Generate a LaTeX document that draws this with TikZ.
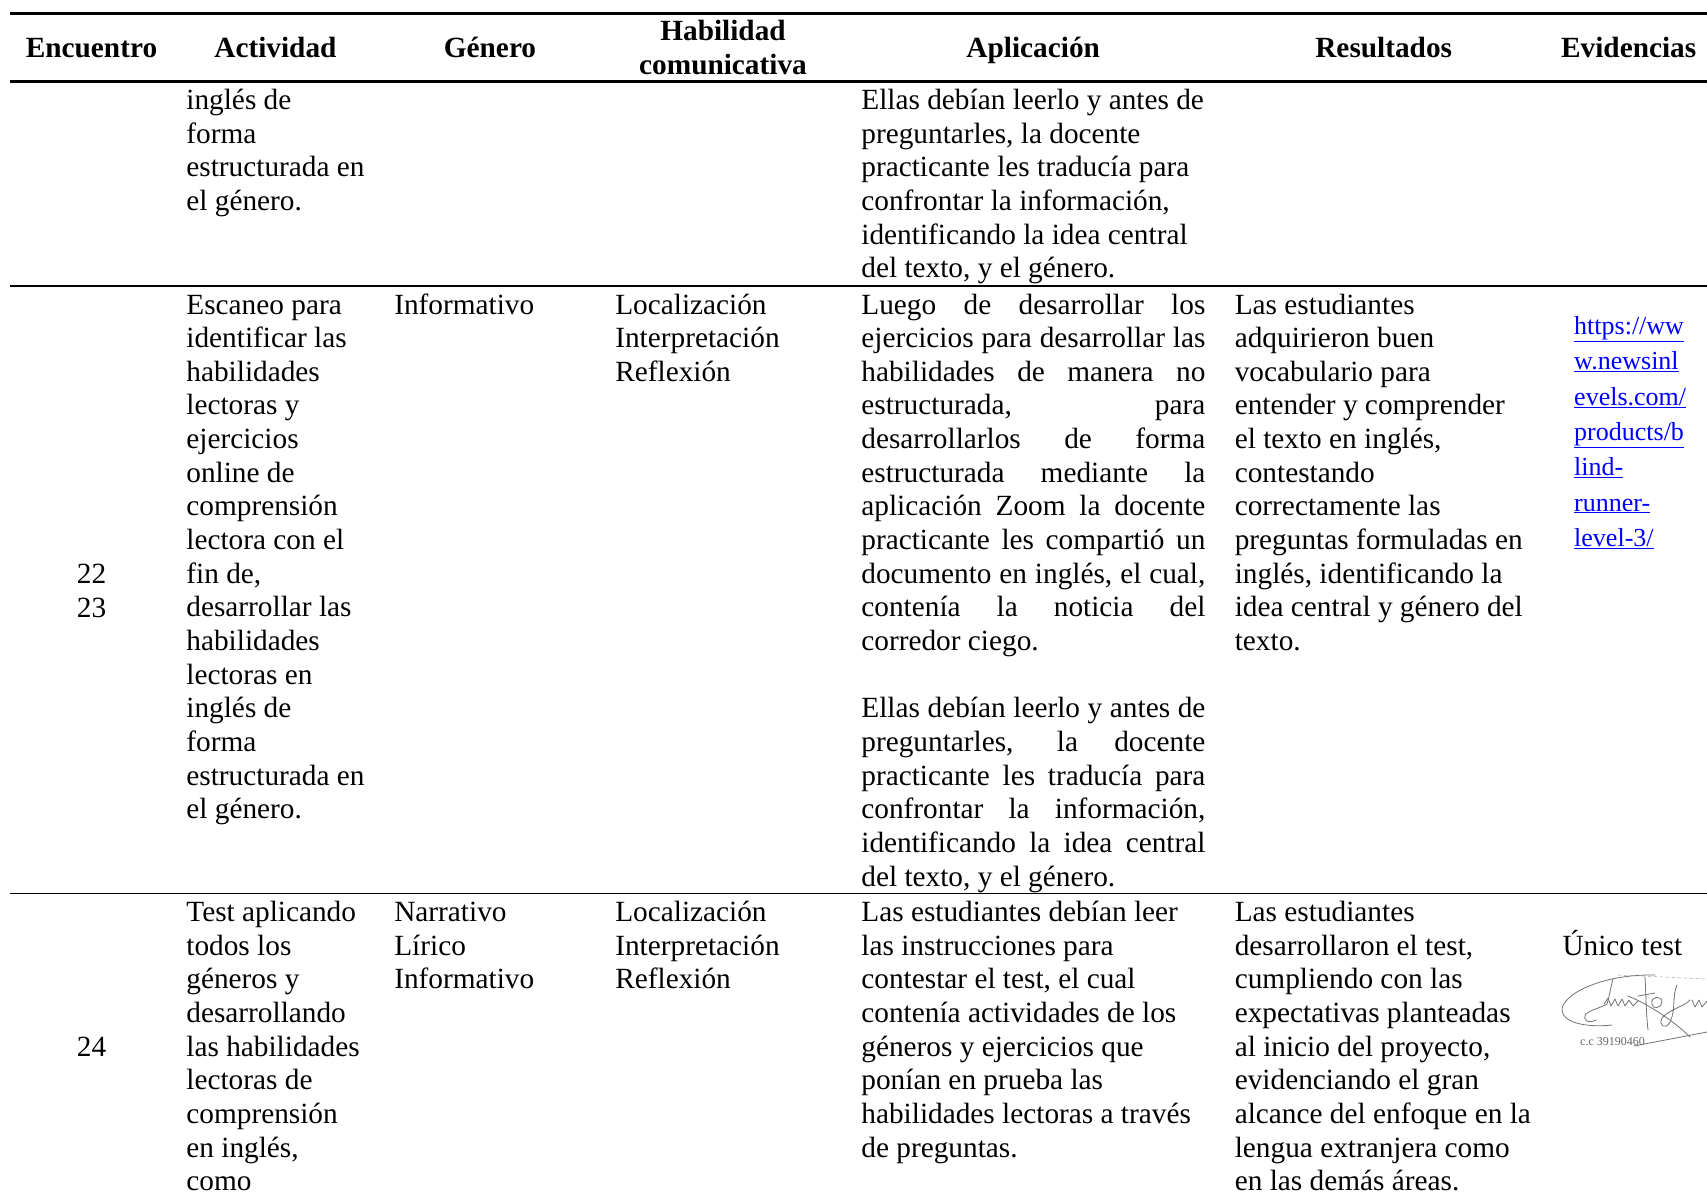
\documentclass[tikz,border=0pt]{standalone}
\usepackage{fontspec}
\setmainfont{Liberation Serif}
\newcommand\cl[1]{\begin{tabular}[t]{@{}l@{}}#1\end{tabular}}
\newcommand\cc[1]{\begin{tabular}[t]{@{}c@{}}#1\end{tabular}}
\newcommand\jl[1]{\makebox[344pt][s]{#1}}
\newcommand\lk[1]{\underline{#1}}
\begin{document}
\begin{tikzpicture}[x=1pt,y=-1pt,
  body/.style={inner sep=0pt, anchor=base west, font=\fontsize{29.3pt}{33.65pt}\selectfont},
  bodyc/.style={inner sep=0pt, anchor=base, font=\fontsize{29.3pt}{33.65pt}\selectfont},
  head/.style={inner sep=0pt, anchor=base, font=\fontsize{29.3pt}{33.65pt}\selectfont\bfseries},
  linkst/.style={inner sep=0pt, anchor=base west, text=blue, font=\fontsize{26pt}{35.3pt}\selectfont},
  rulethick/.style={line width=2.6pt},
  rulethin/.style={line width=1.4pt},
  sig/.style={draw=black!55, line width=0.8pt, line cap=round, line join=round}]
\useasboundingbox[fill=white] (0,0) rectangle (1707,1194);
% rules
\draw[rulethick] (10,13.5) -- (1707,13.5);
\draw[rulethick] (10,81.5) -- (1707,81.5);
\draw[rulethin] (10,286) -- (1707,286);
\draw[rulethin] (10,893.5) -- (1707,893.5);
% header
\node[head] (h1) at (91.5,57.5) {Encuentro};
\node[head] (h2) at (275.4,57.5) {Actividad};
\node[head] (h3) at (490,57.5) {Género};
\node[head] (h4) at (723,40.5) {\cc{Habilidad\\comunicativa}};
\node[head] (h5) at (1033.2,57.5) {Aplicación};
\node[head] (h6) at (1383.7,57.5) {Resultados};
\node[head] (h7) at (1628.7,57.5) {Evidencias};
% row 1
\node[body] (r1a) at (186.2,109.5) {\cl{inglés de\\forma\\estructurada en\\el género.}};
\node[body] (r1b) at (861.2,109.5) {\cl{Ellas debían leerlo y antes de\\preguntarles, la docente\\practicante les traducía para\\confrontar la información,\\identificando la idea central\\del texto, y el género.}};
% row 2
\node[bodyc] (r2n) at (91.5,583.5) {\cc{22\\23}};
\node[body] (r2a) at (186.2,314) {\cl{Escaneo para\\identificar las\\habilidades\\lectoras y\\ejercicios\\online de\\comprensión\\lectora con el\\fin de,\\desarrollar las\\habilidades\\lectoras en\\inglés de\\forma\\estructurada en\\el género.}};
\node[body] (r2g) at (394.1,314) {Informativo};
\node[body] (r2h) at (615.1,314) {\cl{Localización\\Interpretación\\Reflexión}};
\node[body] (r2p) at (861.2,314) {\cl{\jl{Luego de desarrollar los}\\\jl{ejercicios para desarrollar las}\\\jl{habilidades de manera no}\\\jl{estructurada, para}\\\jl{desarrollarlos de forma}\\\jl{estructurada mediante la}\\\jl{aplicación Zoom la docente}\\\jl{practicante les compartió un}\\\jl{documento en inglés, el cual,}\\\jl{contenía la noticia del}\\corredor ciego.\\ \\\jl{Ellas debían leerlo y antes de}\\\jl{preguntarles, la docente}\\\jl{practicante les traducía para}\\\jl{confrontar la información,}\\\jl{identificando la idea central}\\del texto, y el género.}};
\node[body] (r2r) at (1234.6,314) {\cl{Las estudiantes\\adquirieron buen\\vocabulario para\\entender y comprender\\el texto en inglés,\\contestando\\correctamente las\\preguntas formuladas en\\inglés, identificando la\\idea central y género del\\texto.}};
\node[linkst] (r2e) at (1574,334.5) {\begin{tabular}[t]{@{}l@{}}\lk{https://ww}\\\lk{w.newsinl}\\\lk{evels.com/}\\\lk{products/b}\\\lk{lind-}\\\lk{runner-}\\\lk{level-3/}\end{tabular}};
% row 3
\node[bodyc] (r3n) at (91.5,1056) {24};
\node[body] (r3a) at (186.2,921.5) {\cl{Test aplicando\\todos los\\géneros y\\desarrollando\\las habilidades\\lectoras de\\comprensión\\en inglés,\\como}};
\node[body] (r3g) at (394.1,921.5) {\cl{Narrativo\\Lírico\\Informativo}};
\node[body] (r3h) at (615.1,921.5) {\cl{Localización\\Interpretación\\Reflexión}};
\node[body] (r3p) at (861.2,921.5) {\cl{Las estudiantes debían leer\\las instrucciones para\\contestar el test, el cual\\contenía actividades de los\\géneros y ejercicios que\\ponían en prueba las\\habilidades lectoras a través\\de preguntas.}};
\node[body] (r3r) at (1234.6,921.5) {\cl{Las estudiantes\\desarrollaron el test,\\cumpliendo con las\\expectativas planteadas\\al inicio del proyecto,\\evidenciando el gran\\alcance del enfoque en la\\lengua extranjera como\\en las demás áreas.}};
\node[body] (r3e) at (1562.3,955) {Único test};
% signature
\draw[sig, draw=black!35, line width=0.5pt, dashed] (1618,975) -- (1707,979);
\draw[sig] (1655,975) .. controls (1600,974) and (1562,995) .. (1562,1010) .. controls (1562,1022) and (1585,1028) .. (1612,1025);
\draw[sig] (1613,979) .. controls (1610,990) and (1609,998) .. (1607,1004) .. controls (1600,1008) and (1590,1010) .. (1586,1014) .. controls (1582,1020) and (1588,1024) .. (1596,1020);
\draw[sig] (1604,1004) -- (1608,998) -- (1611,1006) -- (1615,999) -- (1618,1006) -- (1622,999) -- (1625,1006) -- (1629,1000) -- (1633,1006) -- (1638,1001);
\draw[sig] (1645,977) .. controls (1646,995) and (1646,1012) .. (1648,1030);
\draw[sig] (1638,996) -- (1655,993);
\draw[sig] (1652,1004) .. controls (1650,996) and (1662,995) .. (1662,1002) .. controls (1662,1008) and (1652,1010) .. (1652,1004);
\draw[sig] (1677,985) .. controls (1672,995) and (1676,1010) .. (1670,1022) .. controls (1666,1030) and (1658,1026) .. (1662,1018) .. controls (1668,1010) and (1685,1006) .. (1690,1000);
\draw[sig] (1692,1000) -- (1695,1007) -- (1699,1000) -- (1702,1007) -- (1707,1001);
\draw[sig] (1628,996) .. controls (1650,1005) and (1675,1022) .. (1690,1037);
\node[inner sep=0pt, anchor=base west, text=black!60, font=\fontsize{12pt}{14pt}\selectfont] (sigtxt) at (1580,1045) {c.c 39190460};
\draw[sig] (1634,1046) -- (1707,1032);
\end{tikzpicture}
\end{document}
